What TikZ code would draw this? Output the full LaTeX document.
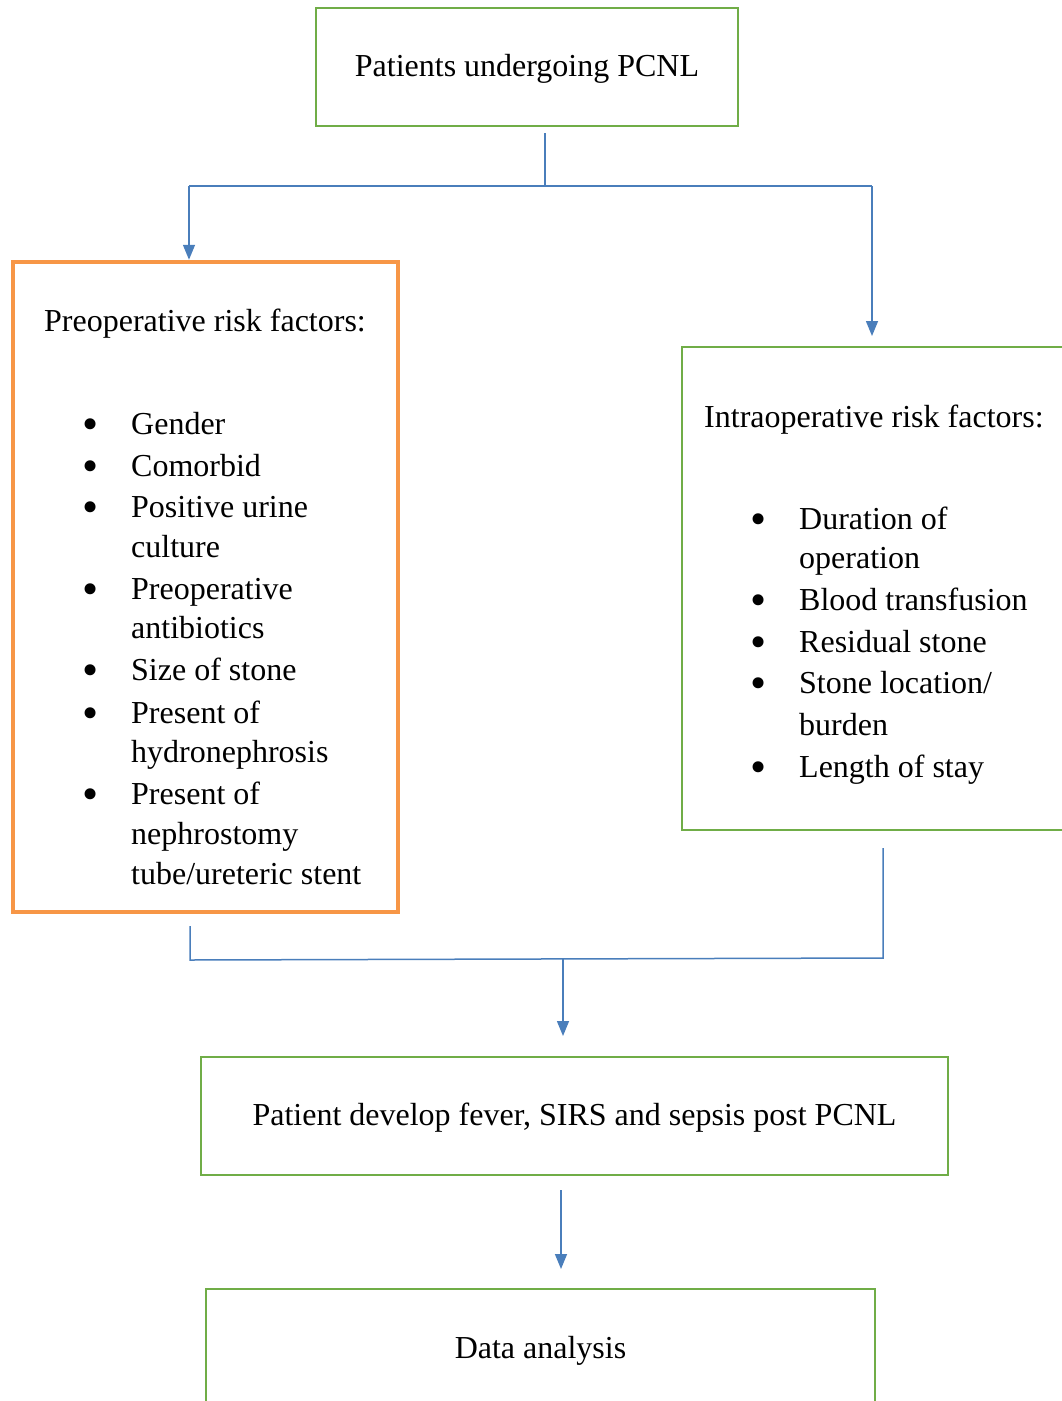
\documentclass[tikz,border=0pt]{standalone}
\usepackage{fontspec}
\setmainfont{Liberation Serif}
\usetikzlibrary{arrows.meta}
\definecolor{boxgreen}{RGB}{112,173,71}
\definecolor{boxorange}{RGB}{247,150,70}
\definecolor{linkblue}{RGB}{74,126,187}
\begin{document}
\begin{tikzpicture}[x=1pt,y=-1pt,
  bigfont/.style={font=\fontsize{32}{40}\selectfont},
  gbox/.style={draw=boxgreen,line width=2.5pt,rectangle,inner sep=0pt,bigfont,text height=21pt,text depth=3pt},
  obox/.style={draw=boxorange,line width=4.5pt,rectangle,inner sep=0pt},
  txt/.style={inner sep=0pt,anchor=base west,bigfont},
  bul/.style={inner sep=0pt,anchor=base,font=\fontsize{46}{20}\selectfont,yshift=-5.5pt,text height=14pt,text depth=0pt},
  conn/.style={draw=linkblue,line width=1.5pt},
  arr/.style={conn,-{Triangle[width=12pt,length=15pt]}}]
\useasboundingbox (0,0) rectangle (1062,1401);

% boxes
\node[gbox,minimum width=422pt,minimum height=118pt] (top) at (527,67) {Patients undergoing PCNL};
\node[obox,minimum width=385pt,minimum height=650pt] (pre) at (205.5,587) {};
\node[gbox,minimum width=393pt,minimum height=483pt] (intra) at (878.5,588.5) {};
\node[gbox,minimum width=747pt,minimum height=118pt] (fever) at (574.5,1116) {Patient develop fever, SIRS and sepsis post PCNL};
\node[gbox,minimum width=669pt,minimum height=121pt] (data) at (540.5,1349.5) {Data analysis};

% preoperative text
\node[txt] (preh) at (44,331) {Preoperative risk factors:};
\node[bul] (pb1) at (91,434) {•};
\node[txt] (p1) at (131,434) {Gender};
\node[bul] (pb2) at (91,476) {•};
\node[txt] (p2) at (131,476) {Comorbid};
\node[bul] (pb3) at (91,517) {•};
\node[txt] (p3a) at (131,517) {Positive urine};
\node[txt] (p3b) at (131,557) {culture};
\node[bul] (pb4) at (91,599) {•};
\node[txt] (p4a) at (131,599) {Preoperative};
\node[txt] (p4b) at (131,638) {antibiotics};
\node[bul] (pb5) at (91,680) {•};
\node[txt] (p5) at (131,680) {Size of stone};
\node[bul] (pb6) at (91,723) {•};
\node[txt] (p6a) at (131,723) {Present of};
\node[txt] (p6b) at (131,762) {hydronephrosis};
\node[bul] (pb7) at (91,804) {•};
\node[txt] (p7a) at (131,804) {Present of};
\node[txt] (p7b) at (131,844) {nephrostomy};
\node[txt] (p7c) at (131,884) {tube/ureteric stent};

% intraoperative text
\node[txt] (inh) at (704,427) {Intraoperative risk factors:};
\node[bul] (ib1) at (759,529) {•};
\node[txt] (i1a) at (799,529) {Duration of};
\node[txt] (i1b) at (799,568) {operation};
\node[bul] (ib2) at (759,610) {•};
\node[txt] (i2) at (799,610) {Blood transfusion};
\node[bul] (ib3) at (759,652) {•};
\node[txt] (i3) at (799,652) {Residual stone};
\node[bul] (ib4) at (759,693) {•};
\node[txt] (i4a) at (799,693) {Stone location/};
\node[txt] (i4b) at (799,735) {burden};
\node[bul] (ib5) at (759,777) {•};
\node[txt] (i5) at (799,777) {Length of stay};

% connector points
\coordinate (s1) at (545,133);
\coordinate (j1) at (545,186);
\coordinate (jl) at (189,186);
\coordinate (jr) at (872,186);
\coordinate (er) at (872,336);
\coordinate (s2l) at (190,926);
\coordinate (j2l) at (190,960);
\coordinate (s2r) at (883,848);
\coordinate (j2r) at (883,958);
\coordinate (j2m) at (563,959);
\coordinate (e2) at (563,1036);
\coordinate (s3) at (561,1190);
\coordinate (e3) at (561,1269);

% connectors
\draw[conn] (s1) -- (j1);
\draw[conn] (jl) -- (jr);
\draw[arr] (jl) -- (jl |- pre.north);
\draw[arr] (jr) -- (er);
\draw[conn] (s2l) -- (j2l) -- (j2r) -- (s2r);
\draw[arr] (j2m) -- (e2);
\draw[arr] (s3) -- (e3);
\end{tikzpicture}
\end{document}
